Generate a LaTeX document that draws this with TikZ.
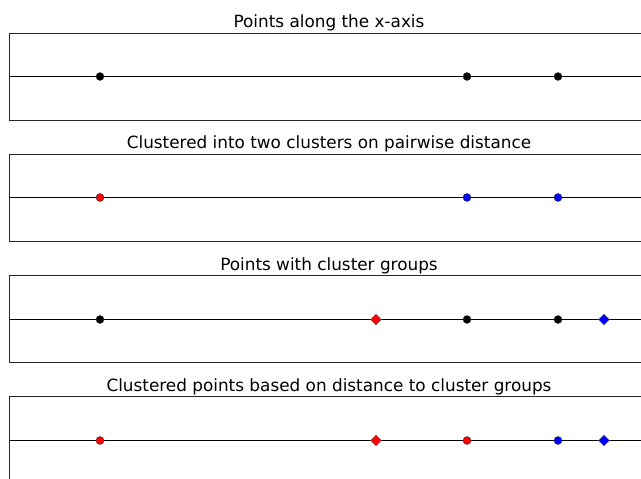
\documentclass[tikz,border=0pt]{standalone}
\usepackage{fontspec}
\setmainfont{DejaVu Sans}
\usetikzlibrary{shapes.geometric}
\begin{document}
\begin{tikzpicture}[x=1pt,y=-1pt,
  frame/.style={draw=black!85,line width=0.9pt},
  axisline/.style={draw=black,line width=0.8pt},
  ttl/.style={font=\fontsize{16.85}{19}\selectfont,anchor=base,inner sep=0pt},
  pt/.style={circle,draw=black!80,line width=0.4pt,inner sep=0pt,minimum size=8pt},
  dia/.style={diamond,draw=black!60,line width=0.4pt,inner sep=0pt,minimum size=11pt},
  kpt/.style={pt,fill=black},
  rpt/.style={pt,fill=red},
  bpt/.style={pt,fill=blue},
  rdia/.style={dia,fill=red},
  bdia/.style={dia,fill=blue}]
\useasboundingbox (0,0) rectangle (641,479);
\clip (0,0) rectangle (641,479);
% panel 1
\node[ttl] (t1) at (329,27.5) {Points along the x-axis};
\draw[frame] (650,33) -- (9.5,33) -- (9.5,120) -- (650,120);
\coordinate (a1l) at (9.5,76.5); \coordinate (a1r) at (650,76.5);
\draw[axisline] (a1l) -- (a1r);
\node[kpt] (p11) at (100,76.5) {};
\node[kpt] (p12) at (467,76.5) {};
\node[kpt] (p13) at (558,76.5) {};
% panel 2
\node[ttl] (t2) at (329,148.5) {Clustered into two clusters on pairwise distance};
\draw[frame] (650,154) -- (9.5,154) -- (9.5,241) -- (650,241);
\coordinate (a2l) at (9.5,197.5); \coordinate (a2r) at (650,197.5);
\draw[axisline] (a2l) -- (a2r);
\node[rpt] (p21) at (100,197.5) {};
\node[bpt] (p22) at (467,197.5) {};
\node[bpt] (p23) at (558,197.5) {};
% panel 3
\node[ttl] (t3) at (329,270) {Points with cluster groups};
\draw[frame] (650,275) -- (9.5,275) -- (9.5,362) -- (650,362);
\coordinate (a3l) at (9.5,319.5); \coordinate (a3r) at (650,319.5);
\draw[axisline] (a3l) -- (a3r);
\node[kpt] (p31) at (100,319.5) {};
\node[rdia] (c31) at (376,319.5) {};
\node[kpt] (p32) at (467,319.5) {};
\node[kpt] (p33) at (558,319.5) {};
\node[bdia] (c32) at (604,319.5) {};
% panel 4
\node[ttl] (t4) at (329,391) {Clustered points based on distance to cluster groups};
\draw[frame] (650,396.5) -- (9.5,396.5) -- (9.5,490);
\coordinate (a4l) at (9.5,440.5); \coordinate (a4r) at (650,440.5);
\draw[axisline] (a4l) -- (a4r);
\node[rpt] (p41) at (100,440.5) {};
\node[rdia] (c41) at (376,440.5) {};
\node[rpt] (p42) at (467,440.5) {};
\node[bpt] (p43) at (558,440.5) {};
\node[bdia] (c42) at (604,440.5) {};
\end{tikzpicture}
\end{document}
